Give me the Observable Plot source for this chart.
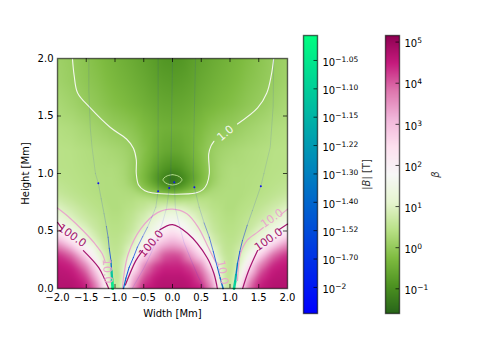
<!DOCTYPE html>
<html><head><meta charset="utf-8">
<script src="https://cdn.jsdelivr.net/npm/d3@7"></script>
<script src="https://cdn.jsdelivr.net/npm/@observablehq/plot@0.6"></script>
<style>
html,body{margin:0;padding:0;background:#fff;width:491px;height:348px;overflow:hidden}
#c{position:relative;width:491px;height:348px}
#c svg{position:absolute;left:0;top:0;background:transparent}
</style></head><body><div id="c"></div>
<script>
// half-width sample columns (mirrored about x = 0) and heights of the log10(beta) field
const columns = [0, .15, .3, .5, .7, .85, .95, 1.05, 1.15, 1.3, 1.5, 1.75, 2];
const row000 = [4.7,4.7,4.65,4.5,3.6,1.4,.5,.9,2.1,3.7,4.5,4.7,4.7];
const row010 = [4.6,4.6,4.5,4.1,3,1,.5,.7,1.4,3,4.2,4.6,4.65];
const row020 = [4.4,4.4,4.2,3.6,1.9,.9,.6,.6,.95,2.1,3.6,4.4,4.55];
const row030 = [4.1,4,3.4,2.5,1.25,.7,.55,.55,.8,1.3,2.4,3.8,4.3];
const row040 = [3.2,3,2.5,1.6,.85,.6,.5,.5,.6,.9,1.4,2.4,3.4];
const row050 = [2.4,2.1,1.6,1.05,.65,.5,.45,.45,.5,.65,1,1.5,2.1];
const row060 = [1.6,1.5,1.2,.85,.55,.45,.4,.4,.45,.55,.7,1,1.4];
const row070 = [1,.95,.8,.6,.45,.4,.35,.35,.4,.45,.55,.75,1];
const row080 = [.1,.15,.2,.35,.35,.35,.35,.35,.35,.4,.45,.55,.7];
const row085 = [-.6,-.5,-.25,0,.28,.33,.35,.35,.35,.38,.42,.5,.6];
const row090 = [-1.15,-.95,-.6,-.2,.15,.3,.33,.35,.35,.37,.41,.47,.55];
const row095 = [-1.6,-1.15,-.78,-.3,.08,.28,.32,.35,.35,.37,.4,.45,.5];
const row100 = [-1.2,-1,-.72,-.28,.08,.26,.31,.34,.34,.36,.39,.44,.47];
const row105 = [-.95,-.85,-.62,-.24,.08,.25,.3,.33,.33,.35,.38,.43,.45];
const row120 = [-.6,-.55,-.42,-.15,.08,.18,.22,.25,.28,.32,.36,.42,.45];
const row140 = [-.45,-.43,-.38,-.25,-.1,-.03,0,.03,.08,.15,.23,.33,.38];
const row160 = [-.6,-.58,-.53,-.43,-.33,-.26,-.22,-.18,-.13,-.05,.04,.17,.27];
const row180 = [-.75,-.72,-.66,-.54,-.44,-.37,-.33,-.28,-.23,-.14,-.05,.07,.17];
const row200 = [-.88,-.85,-.75,-.63,-.52,-.45,-.4,-.35,-.3,-.21,-.1,.04,.13];
const heights = [0,.1,.2,.3,.4,.5,.6,.7,.8,.85,.9,.95,1,1.05,1.2,1.4,1.6,1.8,2];
const rows = [row000,row010,row020,row030,row040,row050,row060,row070,row080,row085,row090,row095,row100,row105,row120,row140,row160,row180,row200];

// field lines: [x, y, |B|]
const lineA = [[-1.455,2,.004],[-1.455,1.72,.004],[-1.43,1.4,.004],[-1.4,1.23,.004],[-1.34,1,.005],[-1.29,.915,.006],[-1.24,.78,.007],[-1.19,.65,.009],[-1.15,.54,.012],[-1.12,.446,.016],[-1.1,.35,.024],[-1.07,.243,.042],[-1.06,.15,.075],[-1.05,.08,.09],[-1.04,0,.097]];
const lineB = [[-.25,2,.004],[-.25,1.17,.004],[-.25,1,.004],[-.25,.846,.005],[-.29,.707,.006],[-.36,.62,.008],[-.435,.533,.011],[-.52,.45,.016],[-.61,.36,.022],[-.68,.27,.027],[-.753,.185,.032],[-.81,.09,.038],[-.852,0,.042]];
const lineC = [[0,2,.004],[-.02,1.3,.004],[-.03,1,.004],[-.057,.875,.004],[-.1,.707,.004],[-.17,.58,.004],[-.26,.446,.004],[-.37,.31,.004],[-.49,.185,.004],[-.62,.07,.004],[-.7,0,.004]];
const lineD = [[.03,.925,.004],[.05,.7,.004],[.12,.55,.004],[.2,.4,.004],[.33,.24,.004],[.45,.1,.004],[.55,0,.004]];
const lineE = [[.4,2,.004],[.37,1.29,.004],[.36,1,.004],[.38,.88,.005],[.464,.707,.007],[.55,.57,.011],[.64,.446,.017],[.71,.32,.025],[.78,.185,.034],[.83,.09,.043],[.88,0,.052]];
const lineF = [[1.76,2,.004],[1.75,1.58,.004],[1.7,1.23,.004],[1.59,1,.005],[1.536,.89,.006],[1.39,.678,.009],[1.3,.55,.013],[1.217,.417,.02],[1.17,.32,.028],[1.13,.217,.045],[1.105,.12,.068],[1.09,.06,.08],[1.07,0,.088]];
const markers = [[-1.29,.915],[-.25,.846],[-.057,.875],[.03,.925],[.38,.88],[1.536,.89]];

// contour lines (split where the inline labels sit)
const contour01 = [[0,.99],[.09,.98],[.15,.96],[.165,.945],[.15,.93],[.09,.91],[0,.9],[-.09,.91],[-.15,.93],[-.165,.945],[-.15,.96],[-.09,.98],[0,.99]];
const contour1Left = [[-1.74,2],[-1.71,1.85],[-1.65,1.7],[-1.43,1.57],[-1.08,1.4],[-.8,1.3],[-.68,1.22],[-.63,1.12],[-.63,1],[-.59,.9],[-.48,.85],[-.33,.83],[0,.82],[.4,.83],[.53,.86],[.6,.91],[.64,1],[.63,1.17],[.67,1.24],[.72,1.28]];
const contour1Right = [[1.13,1.43],[1.48,1.57],[1.64,1.7],[1.72,1.86],[1.76,2]];
const contour10A = [[-2,.7],[-1.8,.62],[-1.55,.5],[-1.35,.39],[-1.22,.3],[-1.17,.23]];
const contour10B = [[-1.08,.07],[-1.03,0]];
const contour10C = [[-.87,0],[-.85,.1],[-.77,.3],[-.55,.52],[-.26,.66],[0,.69],[.25,.65],[.45,.53],[.62,.36],[.75,.23]];
const contour10D = [[.86,.05],[.88,0]];
const contour10E = [[1.13,.07],[1.15,.2],[1.18,.3],[1.3,.42],[1.48,.49],[1.58,.53]];
const contour10F = [[1.88,.64],[2,.69]];
const contour100A = [[-2,.575],[-1.92,.52]];
const contour100B = [[-1.55,.33],[-1.28,.18],[-1.18,.08],[-1.11,0]];
const contour100C = [[-.82,.03],[-.64,.24],[-.52,.33]];
const contour100D = [[-.22,.51],[0,.556],[.26,.48],[.6,.27],[.72,.13],[.78,0]];
const contour100E = [[1.22,0],[1.32,.15],[1.48,.33]];
const contour100F = [[1.85,.51],[2,.56]];

const contourLabels = [
  {x:.92,y:1.35,text:"1.0",rotate:-40,tone:"one"},
  {x:-1.745,y:.46,text:"100.0",rotate:35,tone:"hundred"},
  {x:-.37,y:.39,text:"100.0",rotate:-50,tone:"hundred"},
  {x:1.67,y:.425,text:"100.0",rotate:-35,tone:"hundred"},
  {x:1.73,y:.61,text:"10.0",rotate:-35,tone:"ten"},
  {x:-1.135,y:.15,text:"10.0",rotate:85,tone:"ten"},
  {x:.87,y:.14,text:"10.0",rotate:80,tone:"ten"}
];

const xTicks = [-2,-1.5,-1,-.5,0,.5,1,1.5,2];
const yTicks = [0,.5,1,1.5,2];
const betaExponents = [-1,0,1,2,3,4,5];
const bTicks = [.01,.02,.03,.04,.05,.06,.07,.08,.09];
const bTickLabels = ["-2","-1.70","-1.52","-1.40","-1.30","-1.22","-1.15","-1.10","-1.05"];
const piyg = ["#276419","#4d9221","#7fbc41","#b8e186","#e6f5d0","#f7f7f7","#fde0ef","#f1b6da","#de77ae","#c51b7d","#8e0152"];
const betaDomain = [-1.6,5.16];
const bDomain = [.0008,.0988];
const winter = ["#0000ff","#00ff80"];
const FONT = "'DejaVu Sans'";

const field = rows.flatMap((r,j)=>r.flatMap((v,i)=>{
  const p=[{x:columns[i],y:heights[j],v}];
  if(columns[i]>0)p.push({x:-columns[i],y:heights[j],v});
  return p;
}));
const betaStops = d3.range(piyg.length).map(i=>betaDomain[0]+i*(betaDomain[1]-betaDomain[0])/(piyg.length-1));
const pts = (a,id)=>a.map(p=>({x:p[0],y:p[1],b:p[2],id}));
const streams = [lineA,lineB,lineC,lineD,lineE,lineF].flatMap((l,i)=>pts(l,i));

const contourLine=(arrs,stroke,w)=>arrs.map(a=>Plot.line(a,{x:d=>d[0],y:d=>d[1],stroke,strokeWidth:w,curve:"catmull-rom"}));

function superscripts(svg){
  d3.select(svg).selectAll("text").each(function(){
    const t=this.textContent;
    if(t.includes("^")){
      const [a,b]=t.split("^");
      const s=d3.select(this);s.text(a);
      s.append("tspan").attr("dy","-4").attr("font-size","7.5").text(b.replace("-","\u2212"));
    } else if(t==="|B| [T]"){
      const s=d3.select(this);s.text("|");
      s.append("tspan").attr("font-style","italic").text("B");
      s.append("tspan").text("| [T]");
    }
  });
  return svg;
}
const host=document.getElementById("c");

const main=Plot.plot({
  width:491,height:348,marginLeft:57,marginRight:204,marginTop:58,marginBottom:60,
  style:{fontFamily:FONT,fontSize:"10px",color:"#000",background:"transparent"},
  x:{domain:[-2,2]},y:{domain:[0,2]},
  color:{type:"linear",domain:betaStops,range:piyg,clamp:true},
  marks:[
    Plot.raster(field,{x:"x",y:"y",fill:"v",interpolate:"barycentric",pixelSize:1,blur:2}),
    ...contourLine([contour01],"#b5dd8c",1),
    ...contourLine([contour1Left,contour1Right],"#f4f8ee",1.1),
    ...contourLine([contour10A,contour10B,contour10C,contour10D,contour10E,contour10F],"#e9a6cd",1.2),
    ...contourLine([contour100A,contour100B,contour100C,contour100D,contour100E,contour100F],"#a5146f",1.2),
    Plot.line(streams,{x:"x",y:"y",z:"id",stroke:d=>d3.interpolateRgb(winter[0],winter[1])((d.b-bDomain[0])/(bDomain[1]-bDomain[0])),strokeWidth:d=>.08+30*d.b,strokeOpacity:d=>d.b<.01?.5:.95}),
    Plot.dot(markers,{x:d=>d[0],y:d=>d[1],r:1,fill:"#1010f0"}),
    Plot.text(contourLabels.filter(d=>d.tone==="one"),{x:"x",y:"y",text:"text",rotate:"rotate",fill:"#f4f8ee",fontSize:11}),
    Plot.text(contourLabels.filter(d=>d.tone==="ten"),{x:"x",y:"y",text:"text",rotate:"rotate",fill:"#e9a6cd",fontSize:11}),
    Plot.text(contourLabels.filter(d=>d.tone==="hundred"),{x:"x",y:"y",text:"text",rotate:"rotate",fill:"#a5146f",fontSize:11}),
    Plot.ruleX(xTicks.slice(1,-1),{y1:0,y2:.035,stroke:"#000",strokeWidth:.7}),
    Plot.ruleX(xTicks.slice(1,-1),{y1:1.965,y2:2,stroke:"#000",strokeWidth:.7}),
    Plot.ruleY(yTicks.slice(1,-1),{x1:-2,x2:-1.93,stroke:"#000",strokeWidth:.7}),
    Plot.ruleY(yTicks.slice(1,-1),{x1:1.93,x2:2,stroke:"#000",strokeWidth:.7}),
    Plot.frame({stroke:"#000",strokeWidth:1.4,strokeOpacity:.6}),
    Plot.axisX({ticks:xTicks,tickSize:0,tickPadding:5,tickFormat:d3.format(".1f"),label:"Width [Mm]",labelAnchor:"center",labelOffset:28,labelArrow:"none",fill:"#000"}),
    Plot.axisY({ticks:yTicks,tickSize:0,tickPadding:4,tickFormat:d3.format(".1f"),label:"Height [Mm]",labelAnchor:"center",labelOffset:36,labelArrow:"none",fill:"#000"})
  ]
});
host.appendChild(main);

function colorbar(left,domain,colorOpts,ticks,fmt,label,labelDx){
  return superscripts(Plot.plot({
    width:491,height:348,marginLeft:left,marginRight:491-left-14,marginTop:35,marginBottom:35,
    style:{fontFamily:FONT,fontSize:"10px",color:"#000",background:"transparent",overflow:"visible"},
    x:{domain:[0,1],axis:null},y:{domain},color:colorOpts,
    marks:[
      Plot.raster({x1:0,x2:1,y1:domain[0],y2:domain[1],fill:(x,y)=>y,pixelSize:1}),
      Plot.ruleY(ticks,{x1:.75,x2:1,stroke:"#000",strokeWidth:.7}),
      Plot.frame({stroke:"#000",strokeWidth:1.4,strokeOpacity:.6}),
      Plot.axisY({anchor:"right",ticks,tickSize:0,tickPadding:5,tickFormat:fmt,label:null,dy:2,fill:"#000"}),
      Plot.text([label],{frameAnchor:"middle",dx:labelDx,rotate:-90,text:d=>d,fill:"#333",fontSize:10,fontStyle:label==="β"?"italic":"normal"})
    ]
  }));
}
host.appendChild(colorbar(303,bDomain,{type:"linear",domain:bDomain,range:winter},bTicks,(d,i)=>"10^"+bTickLabels[i],"|B| [T]",56));
host.appendChild(colorbar(385,betaDomain,{type:"linear",domain:betaStops,range:piyg},betaExponents,d=>"10^"+d,"β",43));
</script></body></html>
